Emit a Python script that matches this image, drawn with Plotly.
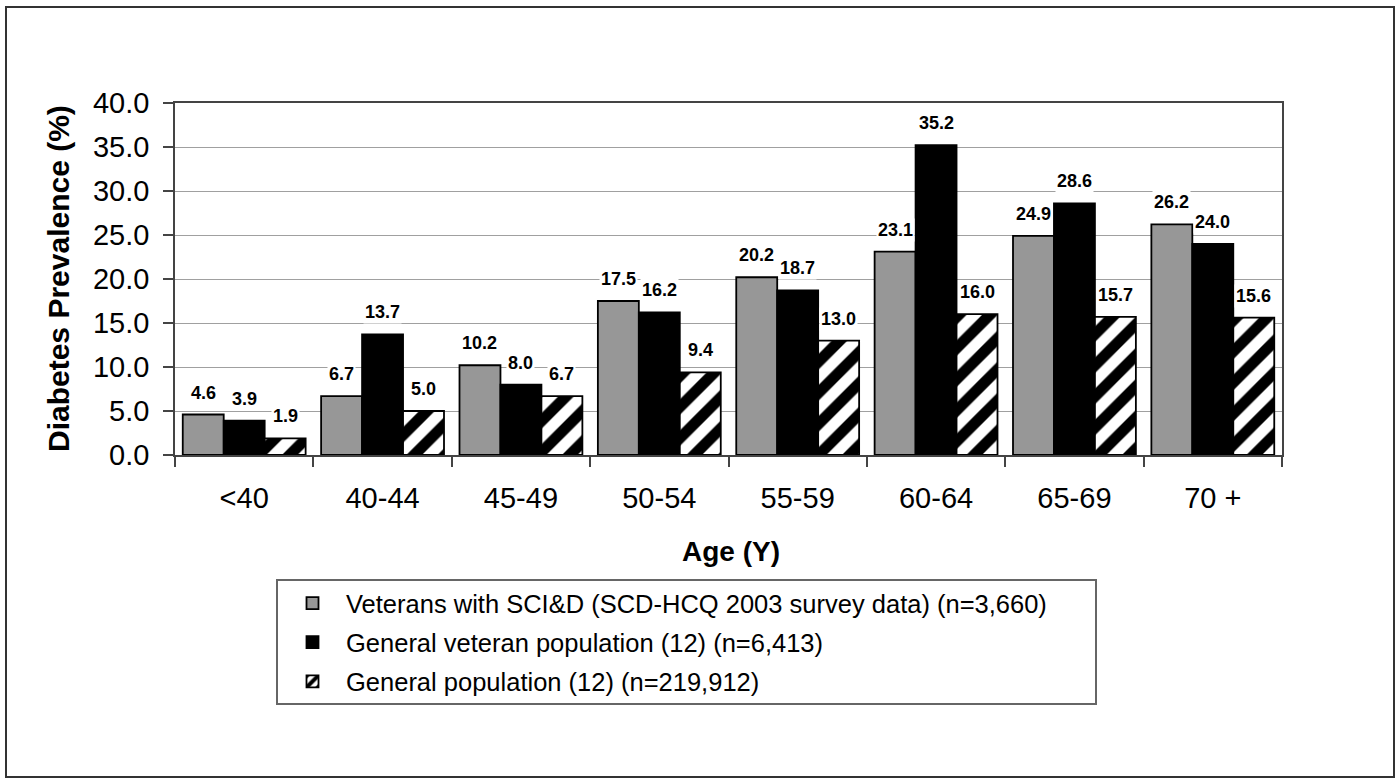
import plotly.graph_objects as go

categories = ["<40", "40-44", "45-49", "50-54", "55-59", "60-64", "65-69", "70 +"]
sci_values = [4.6, 6.7, 10.2, 17.5, 20.2, 23.1, 24.9, 26.2]
veteran_values = [3.9, 13.7, 8.0, 16.2, 18.7, 35.2, 28.6, 24.0]
general_values = [1.9, 5.0, 6.7, 9.4, 13.0, 16.0, 15.7, 15.6]
series_names = [
    "Veterans with SCI&D (SCD-HCQ 2003 survey data) (n=3,660)",
    "General veteran population (12) (n=6,413)",
    "General population (12) (n=219,912)",
]
y_ticks = [0, 5, 10, 15, 20, 25, 30, 35, 40]

FONT = "Liberation Sans, Arial, Helvetica, sans-serif"
W = 0.296  # bar width in category units
idx = list(range(len(categories)))

fig = go.Figure()
series = [
    (sci_values, dict(color="#979797", line=dict(color="#000000", width=1.8))),
    (veteran_values, dict(color="#000000", line=dict(color="#000000", width=1.8))),
    (general_values, dict(color="#ffffff", line=dict(color="#000000", width=1.8),
                          pattern=dict(shape="/", fgcolor="#000000", bgcolor="#ffffff",
                                       fgopacity=1, size=22, solidity=0.5,
                                       fillmode="replace"))),
]
for j, (vals, marker) in enumerate(series):
    xs = [i + (j - 1) * W for i in idx]
    fig.add_trace(go.Bar(
        x=xs, y=vals, width=W, name=series_names[j], marker=marker,
        legendgroup=f"g{j}", hoverinfo="skip",
    ))
    for x, v in zip(xs, vals):
        fig.add_annotation(
            x=x, y=v, xref="x", yref="y", text=f"{v:.1f}", showarrow=False,
            yshift=22, yanchor="middle", xanchor="center",
            bgcolor="#ffffff", borderpad=1,
            font=dict(family=FONT, size=18, color="#000000", weight="bold"),
        )

# plot area geometry (pixels) for paper-coordinate placement
L, R, T, B = 175, 1282, 103, 455
PW, PH = R - L, B - T

def px(xp):
    return (xp - L) / PW

def py(yp):
    return (B - yp) / PH

fig.update_layout(
    width=1398, height=778,
    margin=dict(l=L, r=1398 - R, t=T, b=778 - B, autoexpand=False),
    paper_bgcolor="#ffffff", plot_bgcolor="#ffffff",
    barmode="overlay",
    font=dict(family=FONT, color="#000000"),
    showlegend=True,
    legend=dict(
        x=px(279), y=py(580), xanchor="left", yanchor="top",
        xref="paper", yref="paper",
        borderwidth=0, bgcolor="rgba(0,0,0,0)",
        font=dict(family=FONT, size=25.5, color="#000000"),
        tracegroupgap=3, traceorder="grouped",
        itemwidth=57,
    ),
    xaxis=dict(
        range=[-0.5, len(categories) - 0.5],
        tickmode="array", tickvals=idx, ticktext=categories,
        ticks="", ticklabelstandoff=16,
        tickfont=dict(family=FONT, size=29, color="#000000"),
        showgrid=False, zeroline=False,
        showline=True, linecolor="#444444", linewidth=1.5, mirror=True,
        minor=dict(tickmode="array", tickvals=[i - 0.5 for i in range(len(categories) + 1)],
                   ticks="outside", ticklen=10, tickcolor="#444444", tickwidth=1.5,
                   showgrid=False),
        fixedrange=True,
    ),
    yaxis=dict(
        range=[0, 40], tickmode="array", tickvals=y_ticks,
        ticktext=[f"{t:.1f}" for t in y_ticks],
        ticks="outside", ticklen=10, tickcolor="#444444", tickwidth=1.5,
        ticklabelstandoff=8,
        tickfont=dict(family=FONT, size=29, color="#000000"),
        showgrid=True, gridcolor="#a0a0a0", gridwidth=1.2,
        zeroline=False,
        showline=True, linecolor="#444444", linewidth=1.5, mirror=True,
        fixedrange=True,
    ),
)

fig.add_annotation(
    x=px(58), y=0.5, xref="paper", yref="paper", text="Diabetes Prevalence (%)",
    textangle=-90, showarrow=False, xanchor="center", yanchor="middle",
    font=dict(family=FONT, size=30, color="#000000", weight="bold"),
)
fig.add_annotation(
    x=px(731), y=py(551), xref="paper", yref="paper", text="Age (Y)",
    showarrow=False, xanchor="center", yanchor="middle",
    font=dict(family=FONT, size=28, color="#000000", weight="bold"),
)

# legend frame
fig.add_shape(
    type="rect", xref="paper", yref="paper",
    x0=px(277), x1=px(1096), y0=py(704), y1=py(580),
    line=dict(color="#666666", width=2), fillcolor="rgba(0,0,0,0)", layer="above",
)

# outer frame around the whole figure
fig.add_shape(
    type="rect", xref="paper", yref="paper",
    x0=px(6), x1=px(1394), y0=py(777), y1=py(7),
    line=dict(color="#333333", width=2), fillcolor="rgba(0,0,0,0)", layer="below",
)

fig.write_html(
    "out.html",
    config={"displayModeBar": False},
    post_script="document.body.style.margin='0px'; document.body.style.overflow='hidden';",
)
